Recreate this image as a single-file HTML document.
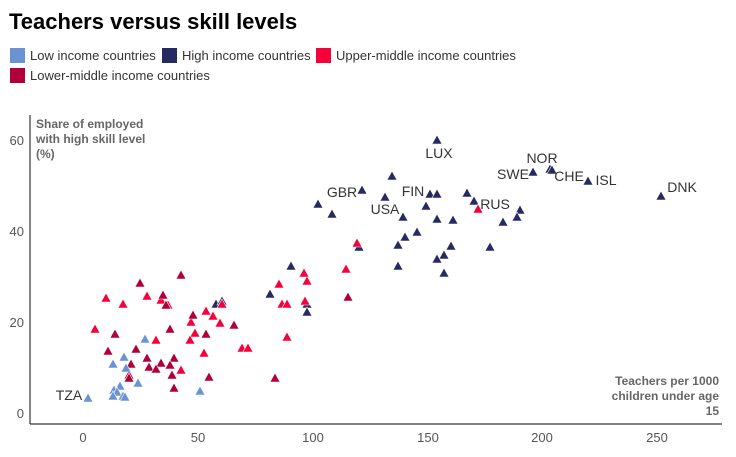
<!DOCTYPE html>
<html><head><meta charset="utf-8"><style>
body{margin:0;background:#fff;font-family:"Liberation Sans",sans-serif;}
svg{display:block}
</style></head><body>
<svg width="736" height="457" xmlns="http://www.w3.org/2000/svg" font-family="Liberation Sans, sans-serif">
<defs>
<path id="t" d="M0,-5 L5,4 L-5,4 Z" stroke="#fff" stroke-width="0.6"/>
</defs>
<text x="9" y="29" font-size="22" font-weight="bold" fill="#000">Teachers versus skill levels</text>
<rect x="10" y="48" width="15" height="15" fill="#6a93d4"/><text x="30" y="60" font-size="13" fill="#333">Low income countries</text>
<rect x="162" y="48" width="15" height="15" fill="#262a61"/><text x="182" y="60" font-size="13" fill="#333">High income countries</text>
<rect x="316" y="48" width="15" height="15" fill="#f5003a"/><text x="336" y="60" font-size="13" fill="#333">Upper-middle income countries</text>
<rect x="10" y="68" width="15" height="15" fill="#b0003a"/><text x="30" y="80" font-size="13" fill="#333">Lower-middle income countries</text>

<line x1="30" y1="115" x2="30" y2="424" stroke="#333" stroke-width="1.2"/>
<line x1="30" y1="424" x2="722" y2="424" stroke="#333" stroke-width="1.2"/>
<g font-size="13" fill="#555" text-anchor="end">
<text x="24" y="145">60</text><text x="24" y="236">40</text><text x="24" y="327">20</text><text x="24" y="418">0</text>
</g>
<g font-size="13" fill="#555" text-anchor="middle">
<text x="83" y="442">0</text><text x="198" y="442">50</text><text x="313" y="442">100</text><text x="428" y="442">150</text><text x="542" y="442">200</text><text x="657" y="442">250</text>
</g>
<g font-size="12" font-weight="bold" fill="#666">
<text x="36" y="128">Share of employed</text><text x="36" y="143">with high skill level</text><text x="36" y="158">(%)</text>
</g>
<g font-size="12" font-weight="bold" fill="#666" text-anchor="end">
<text x="719" y="385">Teachers per 1000</text><text x="719" y="400">children under age</text><text x="719" y="415">15</text>
</g>

<g fill="#262a61">
<use href="#t" x="437" y="140"/><use href="#t" x="392" y="176"/><use href="#t" x="362" y="190"/><use href="#t" x="318" y="204"/><use href="#t" x="332" y="214"/><use href="#t" x="385" y="197"/><use href="#t" x="403" y="217"/><use href="#t" x="430" y="194"/><use href="#t" x="437" y="194"/><use href="#t" x="426" y="206"/><use href="#t" x="437" y="219"/><use href="#t" x="453" y="220"/><use href="#t" x="467" y="193"/><use href="#t" x="474" y="201"/><use href="#t" x="533" y="172"/><use href="#t" x="550" y="169"/><use href="#t" x="552" y="170"/><use href="#t" x="588" y="181"/><use href="#t" x="661" y="196"/><use href="#t" x="520" y="210"/><use href="#t" x="517" y="217"/><use href="#t" x="503" y="222"/><use href="#t" x="417" y="232"/><use href="#t" x="405" y="237"/><use href="#t" x="398" y="245"/><use href="#t" x="359" y="247"/><use href="#t" x="451" y="246"/><use href="#t" x="444" y="255"/><use href="#t" x="437" y="259"/><use href="#t" x="490" y="247"/><use href="#t" x="398" y="266"/><use href="#t" x="444" y="273"/><use href="#t" x="291" y="266"/><use href="#t" x="270" y="294"/><use href="#t" x="307" y="304"/><use href="#t" x="307" y="312"/><use href="#t" x="216" y="304"/><use href="#t" x="222" y="301"/>
</g>
<g fill="#f5003a">
<use href="#t" x="478" y="209"/><use href="#t" x="357" y="243"/><use href="#t" x="346" y="269"/><use href="#t" x="307" y="281"/><use href="#t" x="304" y="273"/><use href="#t" x="305" y="301"/>
<use href="#t" x="106" y="298"/><use href="#t" x="147" y="296"/><use href="#t" x="161" y="300"/><use href="#t" x="168" y="305"/><use href="#t" x="123" y="304"/><use href="#t" x="279" y="284"/><use href="#t" x="282" y="304"/><use href="#t" x="287" y="304"/><use href="#t" x="222" y="304"/><use href="#t" x="206" y="311"/><use href="#t" x="213" y="316"/><use href="#t" x="191" y="322"/><use href="#t" x="220" y="323"/><use href="#t" x="95" y="329"/><use href="#t" x="195" y="333"/><use href="#t" x="190" y="340"/><use href="#t" x="156" y="340"/><use href="#t" x="287" y="337"/><use href="#t" x="242" y="348"/><use href="#t" x="248" y="348"/><use href="#t" x="204" y="353"/><use href="#t" x="181" y="370"/>
</g>
<g fill="#b0003a">
<use href="#t" x="348" y="297"/><use href="#t" x="181" y="275"/><use href="#t" x="140" y="283"/><use href="#t" x="163" y="295"/><use href="#t" x="166" y="305"/><use href="#t" x="193" y="315"/><use href="#t" x="234" y="325"/><use href="#t" x="115" y="334"/><use href="#t" x="170" y="329"/><use href="#t" x="206" y="334"/><use href="#t" x="108" y="351"/><use href="#t" x="136" y="349"/><use href="#t" x="147" y="358"/><use href="#t" x="174" y="358"/><use href="#t" x="131" y="364"/><use href="#t" x="161" y="363"/><use href="#t" x="170" y="365"/><use href="#t" x="149" y="367"/><use href="#t" x="156" y="369"/><use href="#t" x="172" y="375"/><use href="#t" x="129" y="375"/><use href="#t" x="129" y="378"/><use href="#t" x="209" y="377"/><use href="#t" x="275" y="378"/><use href="#t" x="174" y="388"/>
</g>
<g fill="#6a93d4">
<use href="#t" x="145" y="339"/><use href="#t" x="124" y="357"/><use href="#t" x="113" y="364"/><use href="#t" x="126" y="368"/><use href="#t" x="138" y="383"/><use href="#t" x="120" y="386"/><use href="#t" x="114" y="390"/><use href="#t" x="117" y="392"/><use href="#t" x="113" y="396"/><use href="#t" x="123" y="396"/><use href="#t" x="125" y="397"/><use href="#t" x="88" y="398"/><use href="#t" x="200" y="391"/>
</g>
<g font-size="14" fill="#333" text-anchor="middle">
<text x="439" y="158">LUX</text><text x="542" y="163">NOR</text><text x="513" y="179">SWE</text><text x="569" y="181">CHE</text><text x="606" y="185">ISL</text><text x="682" y="192">DNK</text><text x="342" y="197">GBR</text><text x="413" y="196">FIN</text><text x="385" y="214">USA</text><text x="495" y="209">RUS</text><text x="69" y="400">TZA</text>
</g>
</svg>
</body></html>
